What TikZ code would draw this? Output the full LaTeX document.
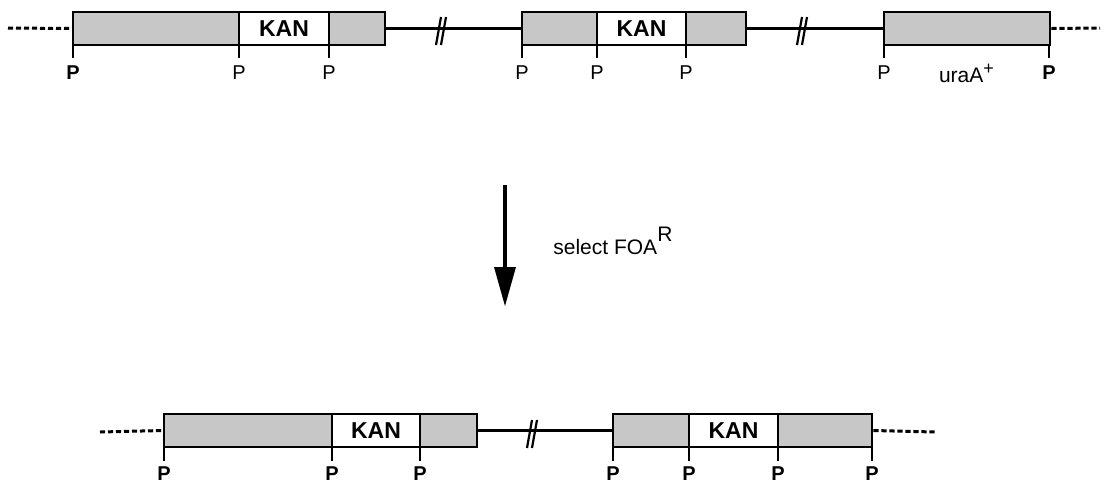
\documentclass[tikz,border=0pt]{standalone}
\usepackage{fontspec}
\setmainfont{Liberation Sans}
\usetikzlibrary{fit}
\begin{document}
\begin{tikzpicture}[x=0.5pt,y=-0.5pt,
  seg/.style={draw=black,line width=1.4pt,fill=black!22,inner sep=0pt},
  kan/.style={draw=black,line width=1.4pt,fill=white,inner sep=0pt,font=\bfseries\fontsize{11.5}{11.5}\selectfont},
  wire/.style={line width=1.3pt},
  dashln/.style={line width=1.5pt,dash pattern=on 2.6pt off 1.4pt},
  tick/.style={line width=1.2pt},
  plab/.style={font=\fontsize{10}{10}\selectfont,inner sep=0pt},
  pbold/.style={font=\bfseries\fontsize{10}{10}\selectfont,inner sep=0pt},
  brk/.style={line width=1.1pt}]
\useasboundingbox (0,0) rectangle (1105,484);
% ---------- top row ----------
\node[seg,fit={(73,12)(239,45)}] (a1) {};
\node[kan,fit={(239,12)(329,45)}] (a2) {};
\node[seg,fit={(329,12)(385,45)}] (a3) {};
\node[kan,draw=none,fill=none] at (a2.center) {KAN};
\node[seg,fit={(522,12)(597,45)}] (b1) {};
\node[kan,fit={(597,12)(686,45)}] (b2) {};
\node[seg,fit={(686,12)(746,45)}] (b3) {};
\node[kan,draw=none,fill=none] at (b2.center) {KAN};
\node[seg,fit={(884,12)(1050,45)}] (c1) {};
\coordinate (ls) at (8,28);
\coordinate (rs) at (1100,28);
\draw[dashln] (ls) -- (a1.west);
\draw[dashln] (c1.east) -- (rs);
\draw[wire] (a3.east) -- (b1.west);
\draw[wire] (b3.east) -- (c1.west);
\coordinate (k1) at (441,31);
\coordinate (k2) at (802,31);
\foreach \k in {k1,k2}{
  \draw[brk] ([shift={(-5,14)}]\k) -- ([shift={(0,-14)}]\k);
  \draw[brk] ([shift={(0,14)}]\k) -- ([shift={(5,-14)}]\k);
}
% ticks and labels, top row
\foreach \x/\s in {73/pbold,239/plab,329/plab,522/plab,597/plab,686/plab,884/plab,1049/pbold}{
  \draw[tick] (\x,45) -- (\x,58);
  \node[\s] at (\x,73) {P};
}
\node[inner sep=0pt,font=\fontsize{10.5}{10.5}\selectfont] (ura) at (967,73) {uraA\textsuperscript{\fontsize{9}{9}\selectfont+}};
% ---------- arrow ----------
\coordinate (ar1) at (505,185);
\coordinate (ar2) at (505,268);
\coordinate (ar3) at (505,306);
\draw[line width=2.2pt] (ar1) -- (ar2);
\fill (494,267) -- (516,267) -- (ar3) -- cycle;
\node[anchor=west,inner sep=0pt,font=\fontsize{10.5}{10.5}\selectfont] (sel) at (553,241) {select FOA\raisebox{1.2ex}{\fontsize{10.5}{10.5}\selectfont R}};
% ---------- bottom row ----------
\node[seg,fit={(164,414)(332,447)}] (d1) {};
\node[kan,fit={(332,414)(420,447)}] (d2) {};
\node[seg,fit={(420,414)(477,447)}] (d3) {};
\node[kan,draw=none,fill=none] at (d2.center) {KAN};
\node[seg,fit={(613,414)(689,447)}] (e1) {};
\node[kan,fit={(689,414)(778,447)}] (e2) {};
\node[seg,fit={(778,414)(872,447)}] (e3) {};
\node[kan,draw=none,fill=none] at (e2.center) {KAN};
\coordinate (ls2) at (100,432);
\coordinate (rs2) at (935,432);
\draw[dashln] (ls2) -- (d1.west);
\draw[dashln] (e3.east) -- (rs2);
\draw[wire] (d3.east) -- (e1.west);
\coordinate (k3) at (532,434);
\draw[brk] ([shift={(-5,14)}]k3) -- ([shift={(0,-14)}]k3);
\draw[brk] ([shift={(0,14)}]k3) -- ([shift={(5,-14)}]k3);
\foreach \x in {164,332,420,613,689,778,872}{
  \draw[tick] (\x,447) -- (\x,461);
  \node[pbold] at (\x,474) {P};
}
\end{tikzpicture}
\end{document}
